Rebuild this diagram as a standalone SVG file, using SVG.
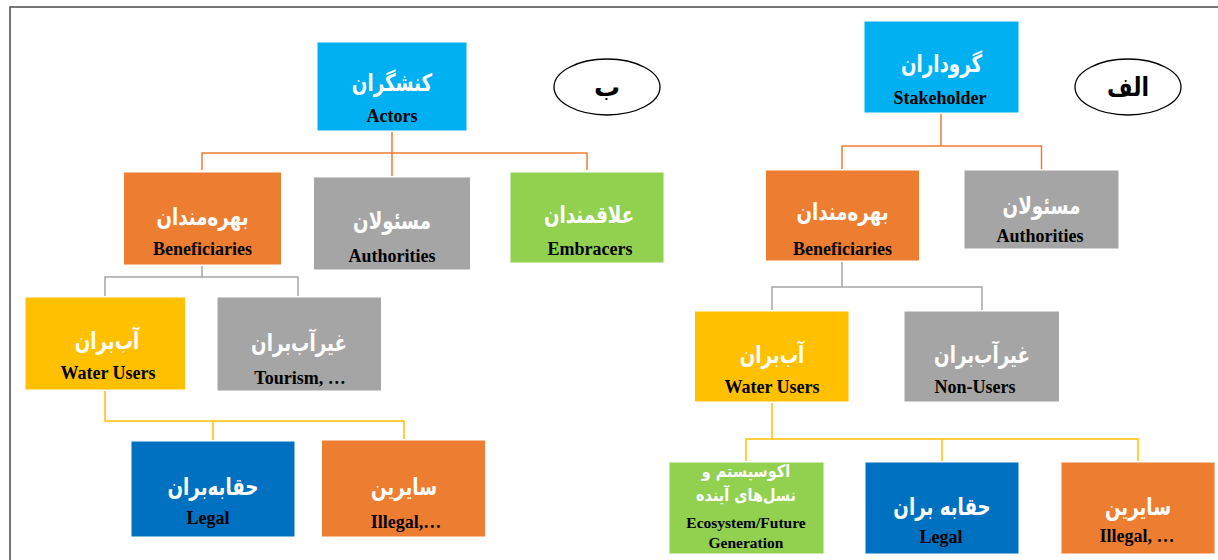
<svg xmlns="http://www.w3.org/2000/svg" width="1218" height="560" viewBox="0 0 1218 560">
<style>
.box{stroke:#ffffff;stroke-width:1}
.cyan{fill:#00B0F0}.orange{fill:#ED7D31}.gray{fill:#A5A5A5}.green{fill:#92D050}.yellow{fill:#FFC000}.blue{fill:#0070C0}
.fa{font-family:"DejaVu Sans",sans-serif;font-weight:bold;font-size:24px;fill:#ffffff;text-anchor:middle}
.fa-s{font-size:17px}
.en{font-family:"Liberation Serif","Times New Roman",serif;font-weight:bold;font-size:18px;fill:#000000;text-anchor:middle}
.en-s{font-size:15.5px}
.lab{font-family:"DejaVu Sans",sans-serif;font-weight:bold;font-size:26px;fill:#000000;text-anchor:middle}
.oc{fill:none;stroke:#ED7D31;stroke-width:1.5}
.gc{fill:none;stroke:#A5A5A5;stroke-width:1.5}
.yc{fill:none;stroke:#FFC000;stroke-width:1.5}
</style>
<rect x="0" y="0" width="1218" height="560" fill="#ffffff"/>
<path d="M10,560 V7 H1218" fill="none" stroke="#4a4a4a" stroke-width="1.5"/>
<g id="connectors">
<path class="oc" d="M392,132 V153 M202,170 V153 H587 V170 M392,153 V176"/>
<path class="gc" d="M202,266 V277 M105,296 V277 H298 V296"/>
<path class="yc" d="M105,391 V421 H404 V439 M213,421 V440"/>
<path class="oc" d="M941,114 V146 M842,169 V146 H1041.5 V169"/>
<path class="gc" d="M842,262 V287 M772,310 V287 H982 V310"/>
<path class="yc" d="M772,403 V439 M746,461 V439 H1138 V461 M942,439 V461"/>
</g>
<g id="label-b">
<ellipse cx="607" cy="87" rx="53" ry="28" fill="#ffffff" stroke="#000000" stroke-width="1.3"/>
<text class="lab" x="607" y="96">ب</text>
</g>
<g id="label-alef">
<ellipse cx="1128" cy="87" rx="53" ry="28" fill="#ffffff" stroke="#000000" stroke-width="1.3"/>
<text class="lab" transform="translate(1128,96) scale(0.85,1)">الف</text>
</g>
<g id="actors">
<rect class="box cyan" x="317" y="42" width="150" height="89"/>
<text class="fa" transform="translate(392,91) scale(0.76,1)">کنشگران</text>
<text class="en" x="392" y="122">Actors</text>
</g>
<g id="beneficiaries-b">
<rect class="box orange" x="123.5" y="172" width="158" height="93"/>
<text class="fa" transform="translate(202.5,225) scale(0.76,1)">بهره‌مندان</text>
<text class="en" x="202.5" y="255">Beneficiaries</text>
</g>
<g id="authorities-b">
<rect class="box gray" x="313.5" y="177" width="157" height="93"/>
<text class="fa" transform="translate(392,229) scale(0.76,1)">مسئولان</text>
<text class="en" x="392" y="262">Authorities</text>
</g>
<g id="embracers">
<rect class="box green" x="510" y="172" width="154" height="91"/>
<text class="fa" transform="translate(589,223) scale(0.76,1)">علاقمندان</text>
<text class="en" x="590" y="255">Embracers</text>
</g>
<g id="water-users-b">
<rect class="box yellow" x="25" y="297" width="160.5" height="93"/>
<text class="fa" transform="translate(107,349) scale(0.76,1)">آب‌بران</text>
<text class="en" x="108" y="379">Water Users</text>
</g>
<g id="tourism">
<rect class="box gray" x="217" y="297" width="164.5" height="94"/>
<text class="fa" transform="translate(299,351) scale(0.76,1)">غیرآب‌بران</text>
<text class="en" x="300" y="384">Tourism, …</text>
</g>
<g id="legal-b">
<rect class="box blue" x="131" y="441" width="164" height="96"/>
<text class="fa" transform="translate(213,495) scale(0.76,1)">حقابه‌بران</text>
<text class="en" x="208" y="524">Legal</text>
</g>
<g id="illegal-b">
<rect class="box orange" x="321.5" y="440" width="164" height="97"/>
<text class="fa" transform="translate(404,495) scale(0.76,1)">سایرین</text>
<text class="en" x="406" y="528">Illegal,…</text>
</g>
<g id="stakeholder">
<rect class="box cyan" x="864" y="21" width="155" height="92"/>
<text class="fa" transform="translate(941.5,72) scale(0.76,1)">گروداران</text>
<text class="en" x="940" y="104">Stakeholder</text>
</g>
<g id="beneficiaries-a">
<rect class="box orange" x="765.5" y="170" width="154" height="91"/>
<text class="fa" transform="translate(842.5,220) scale(0.76,1)">بهره‌مندان</text>
<text class="en" x="842.5" y="255">Beneficiaries</text>
</g>
<g id="authorities-a">
<rect class="box gray" x="964" y="170" width="155" height="79"/>
<text class="fa" transform="translate(1041.5,214) scale(0.76,1)">مسئولان</text>
<text class="en" x="1040" y="242">Authorities</text>
</g>
<g id="water-users-a">
<rect class="box yellow" x="694.5" y="311" width="154.5" height="91"/>
<text class="fa" transform="translate(772,363) scale(0.76,1)">آب‌بران</text>
<text class="en" x="772" y="393">Water Users</text>
</g>
<g id="non-users">
<rect class="box gray" x="904" y="311" width="155.5" height="91"/>
<text class="fa" transform="translate(982,363) scale(0.76,1)">غیرآب‌بران</text>
<text class="en" x="975" y="393">Non-Users</text>
</g>
<g id="ecosystem">
<rect class="box green" x="669" y="462" width="155" height="92"/>
<text class="fa fa-s" transform="translate(746,477) scale(0.85,1)">اکوسیستم و</text>
<text class="fa fa-s" transform="translate(746,501) scale(0.85,1)">نسل‌های آینده</text>
<text class="en en-s" x="746" y="528">Ecosystem/Future</text>
<text class="en en-s" x="746" y="548">Generation</text>
</g>
<g id="legal-a">
<rect class="box blue" x="865" y="462" width="154" height="92"/>
<text class="fa" transform="translate(942,515) scale(0.76,1)">حقابه بران</text>
<text class="en" x="941" y="543">Legal</text>
</g>
<g id="illegal-a">
<rect class="box orange" x="1061" y="462" width="154" height="92"/>
<text class="fa" transform="translate(1138,515) scale(0.76,1)">سایرین</text>
<text class="en" x="1137" y="542">Illegal, …</text>
</g>
</svg>
